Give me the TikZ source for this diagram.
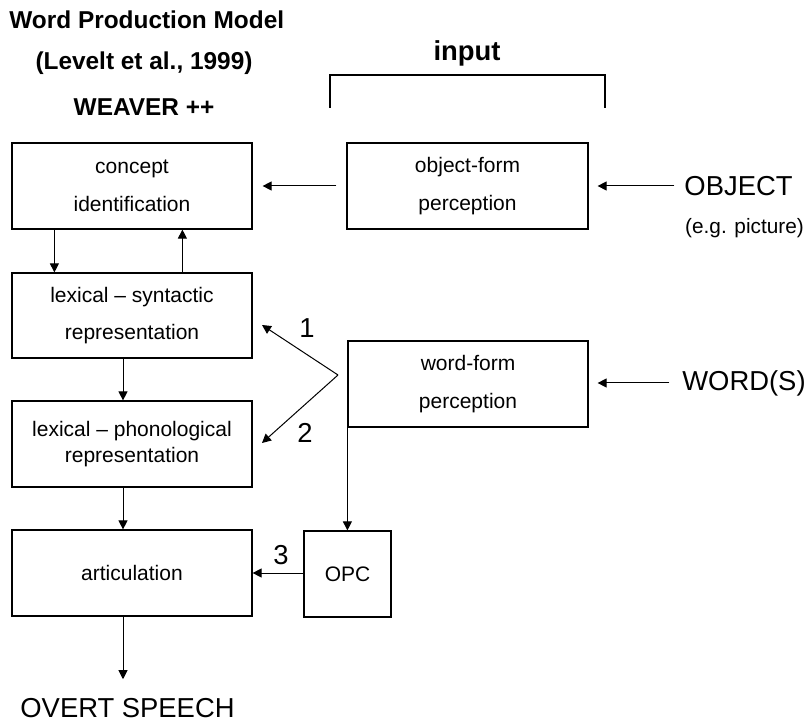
\documentclass[tikz,border=0pt]{standalone}
\usepackage{fontspec}
\setmainfont{Liberation Sans}
\usetikzlibrary{arrows.meta}

\begin{document}
\begin{tikzpicture}[x=0.5pt, y=-0.5pt,
    box/.style={draw, line width=0.6pt, inner sep=0pt, align=center,
        font=\fontsize{10.5}{12.6}\selectfont},
    big/.style={font=\fontsize{13.7}{16}\selectfont},
    head/.style={font=\fontsize{12.2}{14}\selectfont\bfseries},
    arr/.style={-{Triangle[length=4.5pt,width=4.5pt]}, line width=0.5pt}]
        \useasboundingbox (0,0) rectangle (808,721);

        % Title
        \node[head, anchor=west, inner sep=0pt] (title) at (9, 20) {Word Production Model};
        \node[head] (ref) at (144, 63) {(Levelt et al., 1999)};
        \node[head] (weaver) at (144, 107) {WEAVER ++};

        % Input bracket
        \node[big, font=\fontsize{13.7}{16}\selectfont\bfseries] (input) at (467, 53) {input};
        \draw[line width=0.6pt] (330, 108) -- (330, 75) -- (605, 75) -- (605, 108);

        % Left column
        \node[box, minimum width=120pt, minimum height=43pt] (concept) at (132, 186)
            {concept\\[6.4pt]identification};
        \node[box, minimum width=120pt, minimum height=42.5pt] (lexsyn) at (132, 315.5)
            {lexical -- syntactic\\[6.2pt]representation};
        \node[box, minimum width=120pt, minimum height=43pt] (lexphon) at (132, 444)
            {lexical -- phonological\\representation};
        \node[box, minimum width=120pt, minimum height=43pt] (artic) at (132, 573)
            {articulation};
        \node[big] (speech) at (127.5, 708) {OVERT SPEECH};

        % Right column
        \node[box, minimum width=120.5pt, minimum height=43pt] (objform) at (467.5, 186)
            {object-form\\[6.4pt]perception};
        \node[box, minimum width=120pt, minimum height=43pt] (wordform) at (468, 384)
            {word-form\\[6.8pt]perception};
        \node[box, minimum width=43.5pt, minimum height=43pt] (opc) at (347.5, 574) {OPC};

        \node[big] (object) at (738.5, 186) {OBJECT};
        \node[font=\fontsize{10.4}{12}\selectfont] (eg) at (744.5, 228) {(e.g. picture)};
        \node[big] (words) at (744, 383) {WORD(S)};

        % Arrows
        \draw[arr, shorten <=1.5pt, shorten >=4.5pt] (object) -- (objform);
        \draw[arr, shorten <=3pt, shorten >=4.5pt] (words.west) -- (words.west -| wordform.east);
        \draw[arr, shorten <=5pt, shorten >=5pt] (objform) -- (concept);
        \draw[arr] ([xshift=21.5pt]concept.south west) -- ([xshift=21.5pt]lexsyn.north west);
        \draw[arr] ([xshift=85.5pt]lexsyn.north west) -- ([xshift=85.5pt]concept.south west);
        \draw[arr] ([xshift=-4.5pt]lexsyn.south) -- ([xshift=-4.5pt]lexphon.north);
        \draw[arr] ([xshift=-4.5pt]lexphon.south) -- ([xshift=-4.5pt]artic.north);
        \draw[arr, shorten >=6pt] ([xshift=-4.5pt]artic.south) -- ([xshift=-4.5pt]artic.south |- speech.north);
        \draw[arr] (wordform.south west) -- (wordform.south west |- opc.north);
        \draw[arr] ([yshift=0.5pt]opc.west) -- ([yshift=0.5pt]opc.west -| artic.east);

        % Routes 1 and 2
        \coordinate (split) at (338, 375);
        \coordinate (in1) at (262, 325);
        \coordinate (in2) at (262, 443);
        \draw[arr] (split) -- (in1);
        \draw[arr] (split) -- (in2);

        \node[big] (one) at (307, 328) {1};
        \node[big] (two) at (305, 433) {2};
        \node[big] (three) at (281, 555) {3};
    \end{tikzpicture}
\end{document}
